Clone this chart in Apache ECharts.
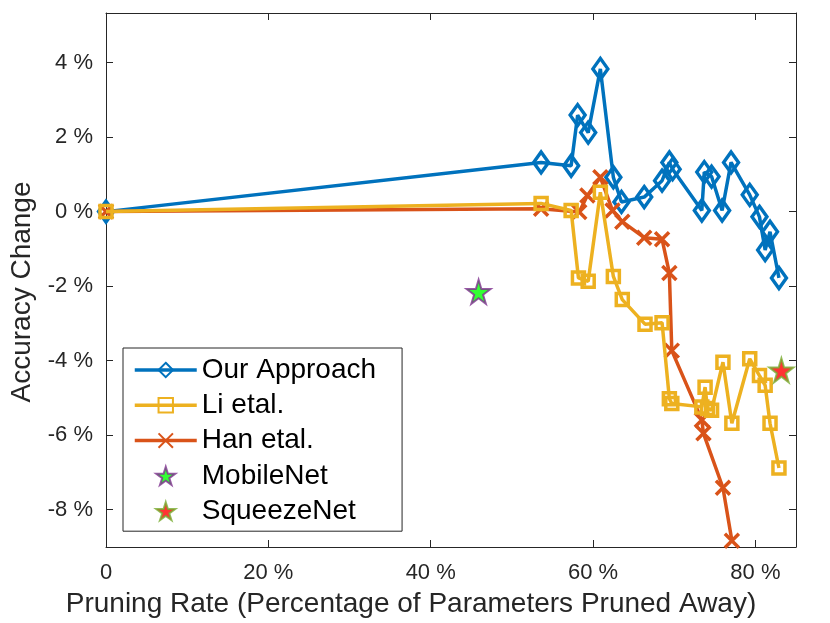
<!DOCTYPE html>
<html>
<head>
<meta charset="utf-8">
<script src="https://cdn.jsdelivr.net/npm/echarts@6/dist/echarts.min.js"></script>
<style>
  html, body { margin: 0; padding: 0; background: #fff; }
  #chart { width: 830px; height: 623px; }
</style>
</head>
<body>
<div id="chart"></div>
<script>
// 数据（剪枝率 %，精度变化 %）
const ourX = [0, 53.6, 57.3, 58.1, 59.4, 60.9, 62.5, 63.5, 66.3, 68.5, 69.4, 69.8, 73.4, 73.7, 74.6, 75.9, 77.0, 79.3, 80.5, 81.2, 81.8, 82.9];
const ourY = [0, 1.32, 1.23, 2.59, 2.12, 3.83, 0.92, 0.26, 0.39, 0.83, 1.32, 1.14, 0.03, 1.06, 0.94, 0.03, 1.32, 0.45, -0.14, -1.03, -0.54, -1.78];

const liX = [0, 53.6, 57.3, 58.2, 59.4, 60.9, 62.5, 63.6, 66.4, 68.5, 69.4, 69.7, 73.4, 73.8, 74.1, 74.6, 76.0, 77.1, 79.3, 80.5, 81.2, 81.8, 82.9];
const liY = [0, 0.22, 0.03, -1.78, -1.87, 0.52, -1.74, -2.36, -3.02, -2.98, -5.02, -5.15, -5.24, -4.71, -5.28, -5.33, -4.04, -5.68, -3.95, -4.40, -4.66, -5.68, -6.88];

const hanX = [0, 53.6, 58.3, 59.3, 60.9, 62.4, 63.6, 66.3, 68.5, 69.4, 69.7, 73.4, 73.6, 76.0, 77.1];
const hanY = [0, 0.08, -0.01, 0.43, 0.92, 0.03, -0.27, -0.70, -0.74, -1.65, -3.73, -5.59, -5.95, -7.41, -8.83];

const mobileX = [45.9];
const mobileY = [-2.15];
const squeezeX = [83.2];
const squeezeY = [-4.26];

const xTicks = [0, 20, 40, 60, 80];
const yTicks = [-8, -6, -4, -2, 0, 2, 4];

const toPairs = (xs, ys) => xs.map((x, i) => [x, ys[i]]);

const BLUE = '#0072BD';
const ORANGE = '#D95319';
const YELLOW = '#EDB120';
const AXIS = '#262626';
const FONT = 'Liberation Sans';

const STAR = 'path://M50,0 L61,35 L98,35 L68,57 L79,91 L50,70 L21,91 L32,57 L2,35 L39,35 Z';
const CROSS = 'path://M0,0 L10,10 M10,0 L0,10';

const chart = echarts.init(document.getElementById('chart'));

const baseX = {
    type: 'value', min: 0, max: 85,
    axisLine: { show: true, onZero: false, lineStyle: { color: AXIS, width: 1 } },
    axisTick: { show: true, inside: true, length: 7, customValues: xTicks, lineStyle: { color: AXIS } },
    splitLine: { show: false }
};
const baseY = {
    type: 'value', min: -9, max: 5.33,
    axisLine: { show: true, onZero: false, lineStyle: { color: AXIS, width: 1 } },
    axisTick: { show: true, inside: true, length: 7, customValues: yTicks, lineStyle: { color: AXIS } },
    splitLine: { show: false }
};

const option = {
    animation: false,
    textStyle: { fontFamily: FONT },
    grid: { left: 103, right: 34, top: 13, bottom: 73 },
    xAxis: [
        Object.assign({}, baseX, {
            position: 'bottom',
            name: 'Pruning Rate (Percentage of Parameters Pruned Away)',
            nameLocation: 'middle',
            nameGap: 43,
            nameTextStyle: { fontSize: 28, color: AXIS, fontFamily: FONT, padding: [0, 80, 0, 0] },
            axisLabel: {
                customValues: xTicks, margin: 15, fontSize: 22, color: AXIS, fontFamily: FONT,
                formatter: v => (v === 0 ? '0' : v + ' %')
            }
        }),
        Object.assign({}, baseX, { position: 'top', axisLabel: { show: false } })
    ],
    yAxis: [
        Object.assign({}, baseY, {
            position: 'left',
            name: 'Accuracy Change',
            nameLocation: 'middle',
            nameGap: 70,
            nameRotate: 90,
            nameTextStyle: { fontSize: 28, color: AXIS, fontFamily: FONT, padding: [0, 24, 0, 0] },
            axisLabel: {
                customValues: yTicks, margin: 13, fontSize: 22, color: AXIS, fontFamily: FONT,
                formatter: v => v + ' %'
            }
        }),
        Object.assign({}, baseY, { position: 'right', axisLabel: { show: false } })
    ],
    legend: {
        orient: 'vertical',
        left: 123, top: 348,
        data: ['Our Approach', 'Li etal.', 'Han etal.', 'MobileNet', 'SqueezeNet'],
        backgroundColor: '#fff',
        borderColor: AXIS, borderWidth: 1,
        padding: [8, 26, 6, 10],
        itemWidth: 62, itemHeight: 18, itemGap: 7.3,
        lineStyle: { width: 3.5 },
        textStyle: { fontSize: 28, color: '#000', fontFamily: FONT, lineHeight: 27.5 }
    },
    series: [
        {
            name: 'Our Approach', type: 'line', z: 3,
            data: toPairs(ourX, ourY),
            symbol: 'diamond', symbolSize: [15, 21],
            lineStyle: { color: BLUE, width: 3.5 },
            itemStyle: { color: 'rgba(255,255,255,0)', borderColor: BLUE, borderWidth: 3.5 }
        },
        {
            name: 'Han etal.', type: 'line', z: 4,
            data: toPairs(hanX, hanY),
            symbol: CROSS, symbolSize: 14,
            lineStyle: { color: ORANGE, width: 3.5 },
            itemStyle: { color: 'rgba(255,255,255,0)', borderColor: ORANGE, borderWidth: 3.5 }
        },
        {
            name: 'Li etal.', type: 'line', z: 5,
            data: toPairs(liX, liY),
            symbol: 'rect', symbolSize: 12,
            lineStyle: { color: YELLOW, width: 3.5 },
            itemStyle: { color: 'rgba(255,255,255,0)', borderColor: YELLOW, borderWidth: 3.5 }
        },
        {
            name: 'MobileNet', type: 'scatter', z: 6,
            data: toPairs(mobileX, mobileY),
            symbol: STAR, symbolSize: 24,
            itemStyle: { color: '#00FF00', borderColor: '#7E2F8E', borderWidth: 2 }
        },
        {
            name: 'SqueezeNet', type: 'scatter', z: 6,
            data: toPairs(squeezeX, squeezeY),
            symbol: STAR, symbolSize: 24,
            itemStyle: { color: '#FF0000', borderColor: '#77AC30', borderWidth: 2 }
        }
    ]
};

chart.setOption(option);

window.addEventListener('resize', () => {
    chart.resize();
});
</script>
</body>
</html>
